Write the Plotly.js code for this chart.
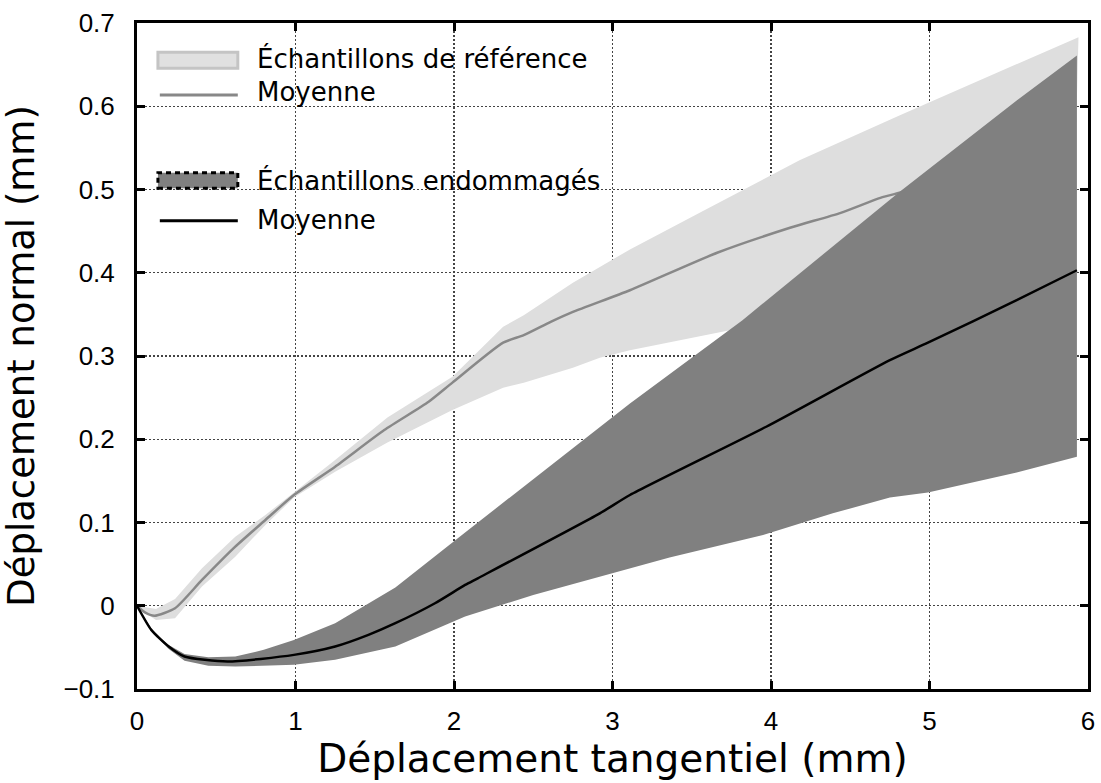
<!DOCTYPE html>
<html>
<head>
<meta charset="utf-8">
<script src="https://cdn.plot.ly/plotly-3.0.1.min.js"></script>
<style>html,body{margin:0;padding:0;background:#fff;}</style>
</head>
<body>
<div id="chart" style="width:1101px;height:783px;"></div>
<script>
// Reference samples band (upper / lower edges)
const refUpperX = [0, 0.12, 0.24, 0.41, 0.62, 0.81, 0.99, 1.25, 1.58, 1.99, 2.31, 2.44, 2.75, 2.92, 3.11, 3.55, 4.18, 4.81, 5.24, 5.65, 5.94];
const refUpperY = [0, -0.004, 0.008, 0.045, 0.083, 0.109, 0.136, 0.175, 0.226, 0.275, 0.335, 0.349, 0.388, 0.407, 0.428, 0.472, 0.535, 0.589, 0.625, 0.659, 0.683];
const refLowerX = [0, 0.12, 0.24, 0.41, 0.62, 0.81, 0.99, 1.25, 1.58, 1.99, 2.31, 2.44, 2.75, 2.92, 3.11, 3.74, 4.3, 5.0, 5.9];
const refLowerY = [-0.002, -0.017, -0.015, 0.023, 0.059, 0.097, 0.13, 0.161, 0.196, 0.235, 0.262, 0.268, 0.286, 0.298, 0.307, 0.331, 0.35, 0.37, 0.39];
// Reference mean
const refMeanX = [0, 0.05, 0.11, 0.24, 0.41, 0.62, 0.81, 0.99, 1.25, 1.56, 1.84, 1.99, 2.31, 2.44, 2.61, 2.75, 3.11, 3.66, 4.12, 4.44, 4.69, 4.81, 5.3, 5.88];
const refMeanY = [0, -0.008, -0.012, -0.003, 0.031, 0.071, 0.103, 0.133, 0.167, 0.211, 0.245, 0.268, 0.316, 0.325, 0.341, 0.353, 0.379, 0.424, 0.454, 0.472, 0.49, 0.496, 0.52, 0.55];
// Damaged samples band
const dmgUpperX = [0, 0.1, 0.2, 0.3, 0.45, 0.62, 0.8, 0.99, 1.25, 1.63, 2.07, 2.15, 3.11, 3.82, 4.81, 5.55, 5.93];
const dmgUpperY = [0, -0.03, -0.047, -0.058, -0.062, -0.061, -0.053, -0.041, -0.021, 0.022, 0.088, 0.1, 0.243, 0.343, 0.497, 0.607, 0.661];
const dmgLowerX = [0, 0.1, 0.2, 0.3, 0.45, 0.62, 0.99, 1.25, 1.63, 2.07, 2.5, 2.92, 3.36, 3.95, 4.39, 4.75, 4.99, 5.55, 5.93];
const dmgLowerY = [0, -0.032, -0.052, -0.066, -0.072, -0.073, -0.071, -0.065, -0.049, -0.013, 0.013, 0.035, 0.058, 0.085, 0.111, 0.13, 0.136, 0.16, 0.179];
// Damaged mean
const dmgMeanX = [0, 0.09, 0.2, 0.3, 0.57, 0.99, 1.25, 1.46, 1.63, 1.88, 2.07, 2.15, 2.92, 3.11, 3.97, 4.75, 4.99, 5.55, 5.93];
const dmgMeanY = [0, -0.029, -0.049, -0.061, -0.067, -0.059, -0.049, -0.035, -0.021, 0.003, 0.025, 0.033, 0.111, 0.133, 0.215, 0.295, 0.316, 0.367, 0.403];

const xTicks = [0, 1, 2, 3, 4, 5, 6];
const yTicks = [-0.1, 0, 0.1, 0.2, 0.3, 0.4, 0.5, 0.6, 0.7];
const legendLabels = ["Échantillons de référence", "Moyenne", "Échantillons endommagés", "Moyenne"];

function band(ux, uy, lx, ly) {
  return {x: ux.concat(lx.slice().reverse()), y: uy.concat(ly.slice().reverse())};
}
const refBand = band(refUpperX, refUpperY, refLowerX, refLowerY);
const dmgBand = band(dmgUpperX, dmgUpperY, dmgLowerX, dmgLowerY);

const traces = [
  {x: refBand.x, y: refBand.y, type: 'scatter', mode: 'lines', fill: 'toself',
   fillcolor: '#dedede', line: {width: 0, color: '#dedede'}, name: legendLabels[0], hoverinfo: 'skip'},
  {x: refMeanX, y: refMeanY, type: 'scatter', mode: 'lines',
   line: {color: '#888888', width: 2.5, shape: 'spline', smoothing: 0.6}, name: legendLabels[1]},
  {x: dmgBand.x, y: dmgBand.y, type: 'scatter', mode: 'lines', fill: 'toself',
   fillcolor: '#808080', line: {width: 0, color: '#808080'}, name: legendLabels[2], hoverinfo: 'skip'},
  {x: dmgMeanX, y: dmgMeanY, type: 'scatter', mode: 'lines',
   line: {color: '#000000', width: 2.5, shape: 'spline', smoothing: 0.6}, name: legendLabels[3]}
];

const tickFont = {family: 'Liberation Sans, Arial, sans-serif', size: 26, color: '#000'};
const xTitleFont = {family: 'DejaVu Sans, sans-serif', size: 39, color: '#000'};
const yTitleFont = {family: 'DejaVu Sans, sans-serif', size: 37, color: '#000'};
const legFont = {family: 'DejaVu Sans, sans-serif', size: 26, color: '#000'};

const axisCommon = {
  showline: true, linecolor: '#000', linewidth: 3, mirror: 'ticks',
  ticks: 'inside', ticklen: 8, tickwidth: 3, tickcolor: '#000',
  showgrid: true, gridcolor: '#444', gridwidth: 1.3, griddash: '2px,2px',
  zeroline: false, tickfont: tickFont, automargin: false
};

const layout = {
  width: 1101, height: 783,
  margin: {l: 137, r: 13, t: 23, b: 94},
  paper_bgcolor: '#fff', plot_bgcolor: '#fff',
  showlegend: false,
  xaxis: Object.assign({}, axisCommon, {
    range: [0, 6], tickvals: xTicks, ticktext: xTicks.map(String), ticklabelstandoff: 7,
    title: {text: 'Déplacement tangentiel (mm)', font: xTitleFont, standoff: 10}
  }),
  yaxis: Object.assign({}, axisCommon, {
    range: [-0.1, 0.7], tickvals: yTicks, ticktext: yTicks.map(v => v < 0 ? '\u2212' + Math.abs(v) : String(v)), ticklabelstandoff: 14,
    title: {text: 'Déplacement normal (mm)', font: yTitleFont, standoff: 18}
  }),
  shapes: [
    // legend background hiding the grid
    {type: 'rect', xref: 'paper', yref: 'paper', x0: 0, x1: 0.4955, y0: 0.66, y1: 1,
     fillcolor: '#fff', line: {width: 0}, layer: 'between'},
    {type: 'rect', xref: 'paper', yref: 'paper', x0: 0.022, x1: 0.106, y0: 0.932, y1: 0.956,
     fillcolor: '#e0e0e0', line: {color: '#c4c4c4', width: 3}},
    {type: 'line', xref: 'paper', yref: 'paper', x0: 0.024, x1: 0.106, y0: 0.892, y1: 0.892,
     line: {color: '#888888', width: 3}},
    {type: 'rect', xref: 'paper', yref: 'paper', x0: 0.022, x1: 0.106, y0: 0.752, y1: 0.775,
     fillcolor: '#808080', line: {color: '#000', width: 3, dash: '5px,4px'}},
    {type: 'line', xref: 'paper', yref: 'paper', x0: 0.024, x1: 0.106, y0: 0.703, y1: 0.703,
     line: {color: '#000', width: 3}}
  ],
  annotations: [
    {xref: 'paper', yref: 'paper', x: 0.124, y: 0.947, text: legendLabels[0], showarrow: false, xanchor: 'left', yanchor: 'middle', font: legFont},
    {xref: 'paper', yref: 'paper', x: 0.124, y: 0.896, text: legendLabels[1], showarrow: false, xanchor: 'left', yanchor: 'middle', font: legFont},
    {xref: 'paper', yref: 'paper', x: 0.124, y: 0.764, text: legendLabels[2], showarrow: false, xanchor: 'left', yanchor: 'middle', font: legFont},
    {xref: 'paper', yref: 'paper', x: 0.124, y: 0.704, text: legendLabels[3], showarrow: false, xanchor: 'left', yanchor: 'middle', font: legFont}
  ]
};

Plotly.newPlot('chart', traces, layout, {displayModeBar: false, staticPlot: true});
</script>
</body>
</html>
